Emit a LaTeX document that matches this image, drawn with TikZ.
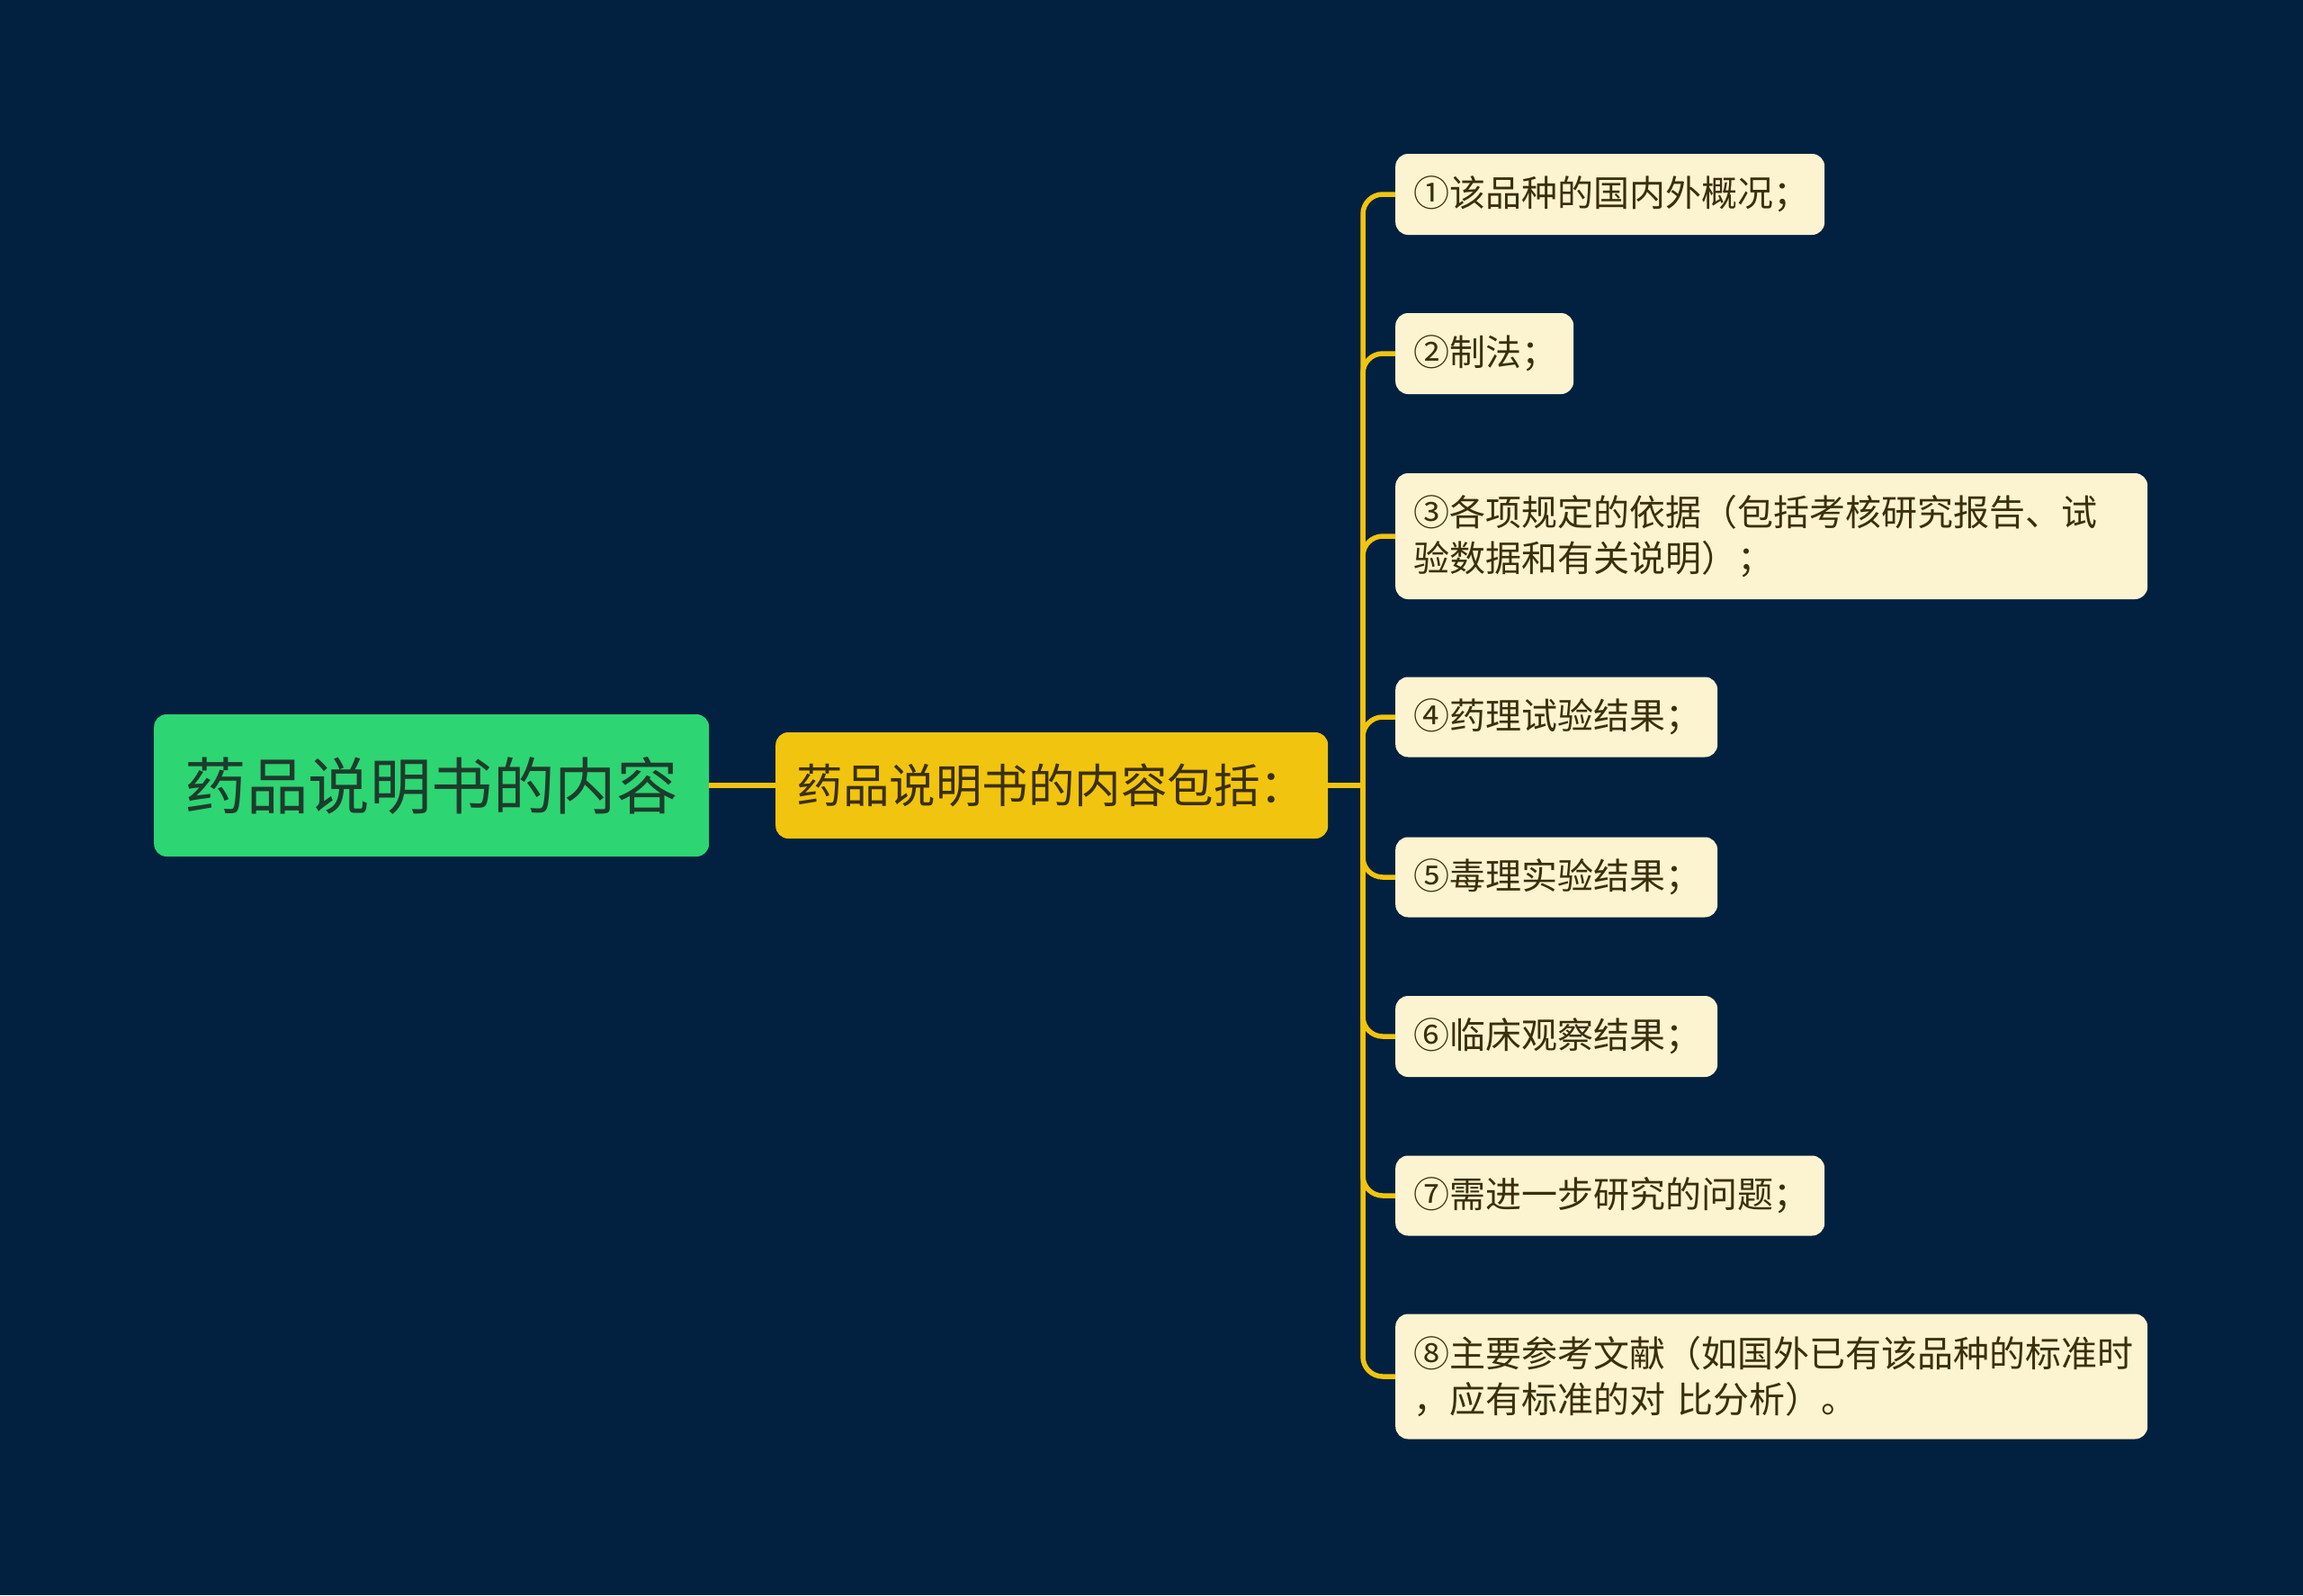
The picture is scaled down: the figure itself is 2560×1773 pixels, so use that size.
\documentclass[tikz,border=0pt]{standalone}
\usepackage{fontspec}
\newfontfamily\cjk{Noto Sans CJK SC}
\definecolor{bg}{HTML}{022140}
\definecolor{rootfill}{HTML}{2ED573}
\definecolor{subfill}{HTML}{F1C40F}
\definecolor{leaffill}{HTML}{FCF4D0}
\definecolor{linecol}{HTML}{F1C40F}
\definecolor{roottext}{HTML}{1E3B2C}
\definecolor{leaftext}{HTML}{3A2F0A}
\begin{document}
\begin{tikzpicture}[x=1pt,y=-1pt,
  box/.style={rounded corners=14pt, inner xsep=0pt, inner ysep=0pt, anchor=west},
  rootbox/.style={box, fill=rootfill, text=roottext, minimum width=617pt, minimum height=158pt,
    font=\cjk\fontsize{68.5}{80}\selectfont},
  subbox/.style={box, fill=subfill, text=leaftext, minimum width=614pt, minimum height=118pt,
    font=\cjk\fontsize{51.5}{60}\selectfont},
  leafbox/.style={box, fill=leaffill, text=leaftext, inner xsep=20pt, align=left,
    font=\cjk\fontsize{40}{51}\selectfont},
  conn/.style={draw=linecol, line width=5.5pt, rounded corners=22pt}
]
\fill[bg] (0,0) rectangle (2560,1773);
\useasboundingbox (0,0) rectangle (2560,1773);

\node[rootbox] (root) at (171,873) {药品说明书的内容};
\node[subbox] (sub) at (862,873) {药品说明书的内容包括：};

\node[leafbox, text width=437pt, minimum height=90pt] (l1) at (1551,216) {①该品种的国内外概况；};
\node[leafbox, text width=158pt, minimum height=90pt] (l2) at (1551,393) {②制法；};
\node[leafbox, text width=796pt, minimum height=140pt] (l3) at (1551,596) {③各项规定的依据（包括考核研究报告、试\\验数据和有关说明）；};
\node[leafbox, text width=318pt, minimum height=89pt] (l4) at (1551,797) {④药理试验结果；};
\node[leafbox, text width=318pt, minimum height=89pt] (l5) at (1551,975) {⑤毒理实验结果；};
\node[leafbox, text width=318pt, minimum height=90pt] (l6) at (1551,1152) {⑥临床观察结果；};
\node[leafbox, text width=437pt, minimum height=89pt] (l7) at (1551,1329) {⑦需进一步研究的问题；};
\node[leafbox, text width=796pt, minimum height=139pt] (l8) at (1551,1530) {⑧主要参考文献（如国外已有该品种的标准时\\，应有标准的对 比分析）。};

\coordinate (bus) at (1515,873);
\draw[conn] (root.east) -- (sub.west);
\draw[conn] (sub.east) -- (bus);
\foreach \n in {l1,l2,l3,l4,l5,l6,l7,l8}
  \draw[conn] (bus) |- (\n.west);
\end{tikzpicture}
\end{document}
